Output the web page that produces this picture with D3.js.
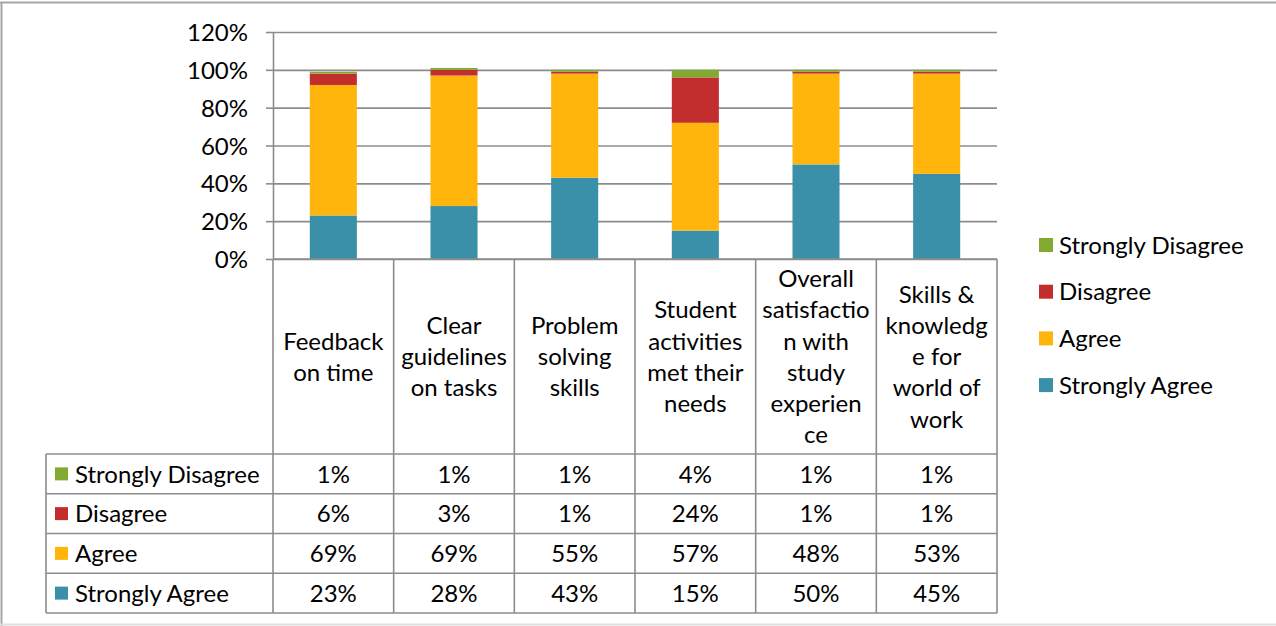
<!DOCTYPE html>
<html>
<head>
<meta charset="utf-8">
<script src="https://cdn.jsdelivr.net/npm/d3@7"></script>
<style>
  html, body { margin: 0; padding: 0; background: #fff; }
  svg { display: block; font-family: Lato, "Open Sans", sans-serif; }
</style>
</head>
<body>
<svg id="chart" width="1276" height="626"></svg>
<script>
// Survey categories, one array of wrapped lines per column
const categories = [
  "Feedback on time",
  "Clear guidelines on tasks",
  "Problem solving skills",
  "Student activities met their needs",
  "Overall satisfaction with study experience",
  "Skills & knowledge for world of work"
];
const categoryLines = [
  ["Feedback", "on time"],
  ["Clear", "guidelines", "on tasks"],
  ["Problem", "solving", "skills"],
  ["Student", "activities", "met their", "needs"],
  ["Overall", "satisfactio", "n with", "study", "experien", "ce"],
  ["Skills &", "knowledg", "e for", "world of", "work"]
];

// Series (stack order bottom to top)
const seriesNames = ["Strongly Agree", "Agree", "Disagree", "Strongly Disagree"];
const stronglyAgree    = [0.23, 0.28, 0.43, 0.15, 0.50, 0.45];
const agree            = [0.69, 0.69, 0.55, 0.57, 0.48, 0.53];
const disagree         = [0.06, 0.03, 0.01, 0.24, 0.01, 0.01];
const stronglyDisagree = [0.01, 0.01, 0.01, 0.04, 0.01, 0.01];
const seriesColors = ["#3a90a8", "#ffb50c", "#c22e2e", "#82aa33"];

const yTicks = [0, 0.2, 0.4, 0.6, 0.8, 1.0, 1.2];

const seriesValues = [stronglyAgree, agree, disagree, stronglyDisagree];
const rows = categories.map((c, i) => {
  const r = { category: c };
  seriesNames.forEach((s, k) => { r[s] = seriesValues[k][i]; });
  return r;
});

const svg = d3.select("#chart");
const gridColor = "#8c8c8c";
const fontSize = 24;

// Outer frame
svg.append("line").attr("x1", 0).attr("x2", 1276).attr("y1", 2.5).attr("y2", 2.5)
  .attr("stroke", "#a6a6a6").attr("stroke-width", 2);
svg.append("line").attr("x1", 1.5).attr("x2", 1.5).attr("y1", 2).attr("y2", 626)
  .attr("stroke", "#a6a6a6").attr("stroke-width", 2);
svg.append("line").attr("x1", 0).attr("x2", 1276).attr("y1", 624.5).attr("y2", 624.5)
  .attr("stroke", "#e0e0e0").attr("stroke-width", 2);

const plotLeft = 273, plotRight = 997, plotTop = 32, plotBottom = 259;

const x = d3.scaleBand().domain(categories).range([plotLeft, plotRight]).paddingInner(0).paddingOuter(0);
const y = d3.scaleLinear().domain([0, 1.2]).range([plotBottom, plotTop]);

// Horizontal gridlines
svg.append("g")
  .attr("transform", `translate(${plotLeft},0)`)
  .call(d3.axisLeft(y).tickValues(yTicks).tickSize(-(plotRight - plotLeft)).tickFormat(""))
  .call(g => g.select(".domain").remove())
  .call(g => g.selectAll("line").attr("stroke", gridColor).attr("stroke-width", 1.6));

// Y axis with percentage labels
svg.append("g")
  .attr("transform", `translate(${plotLeft},0)`)
  .call(d3.axisLeft(y).tickValues(yTicks).tickSize(7).tickSizeOuter(0).tickPadding(18)
    .tickFormat(d3.format(".0%")))
  .call(g => g.select(".domain").attr("stroke", gridColor).attr("stroke-width", 1.6))
  .call(g => g.selectAll(".tick line").attr("stroke", gridColor).attr("stroke-width", 1.6))
  .call(g => g.selectAll(".tick text").attr("fill", "#000").attr("font-size", fontSize)
    .attr("font-family", "Lato, sans-serif").attr("dy", "0.36em"));

// Stacked bars
const stack = d3.stack().keys(seriesNames);
const stacked = stack(rows);
const barW = x.bandwidth() * 0.39;

svg.append("g").selectAll("g")
  .data(stacked)
  .join("g")
  .attr("fill", (d, i) => seriesColors[i])
  .selectAll("rect")
  .data(d => d)
  .join("rect")
  .attr("x", d => x(d.data.category) + (x.bandwidth() - barW) / 2)
  .attr("width", barW)
  .attr("y", d => y(d[1]))
  .attr("height", d => y(d[0]) - y(d[1]));

// Data table
const tableLeft = 46;
const headerTop = plotBottom;
const rowTop = 454;
const rowH = 39.75;
const tableBottom = rowTop + rowH * 4;
const table = svg.append("g");

// horizontal table lines
table.append("line").attr("x1", plotLeft).attr("x2", plotRight)
  .attr("y1", headerTop).attr("y2", headerTop)
  .attr("stroke", gridColor).attr("stroke-width", 1.6);
for (let r = 0; r <= 4; r++) {
  const yy = rowTop + r * rowH;
  table.append("line").attr("x1", tableLeft).attr("x2", plotRight)
    .attr("y1", yy).attr("y2", yy).attr("stroke", gridColor).attr("stroke-width", 1.6);
}
// vertical table lines
table.append("line").attr("x1", tableLeft).attr("x2", tableLeft)
  .attr("y1", rowTop).attr("y2", tableBottom).attr("stroke", gridColor).attr("stroke-width", 1.6);
table.append("line").attr("x1", plotLeft).attr("x2", plotLeft)
  .attr("y1", headerTop).attr("y2", tableBottom).attr("stroke", gridColor).attr("stroke-width", 1.6);
categories.forEach(c => {
  const xx = x(c) + x.bandwidth();
  table.append("line").attr("x1", xx).attr("x2", xx)
    .attr("y1", headerTop).attr("y2", tableBottom).attr("stroke", gridColor).attr("stroke-width", 1.6);
});

// category header text
const lineH = 31.2;
const headerMid = (headerTop + rowTop) / 2;
categories.forEach((c, i) => {
  const lines = categoryLines[i];
  const t = table.append("text")
    .attr("text-anchor", "middle")
    .attr("font-size", fontSize)
    .attr("fill", "#000");
  lines.forEach((ln, j) => {
    t.append("tspan")
      .attr("x", x(c) + x.bandwidth() / 2)
      .attr("y", headerMid + (j - (lines.length - 1) / 2) * lineH)
      .attr("dy", "0.36em")
      .text(ln);
  });
});

// table rows (top row = last series)
const tableOrder = [3, 2, 1, 0];
const pct = d3.format(".0%");
tableOrder.forEach((k, r) => {
  const cy = rowTop + r * rowH + rowH / 2;
  table.append("rect").attr("x", 55).attr("y", cy - 6.5).attr("width", 13).attr("height", 13)
    .attr("fill", seriesColors[k]);
  table.append("text").attr("x", 75).attr("y", cy).attr("dy", "0.36em")
    .attr("font-size", fontSize).attr("fill", "#000").text(seriesNames[k]);
  categories.forEach((c, i) => {
    table.append("text")
      .attr("x", x(c) + x.bandwidth() / 2).attr("y", cy).attr("dy", "0.36em")
      .attr("text-anchor", "middle").attr("font-size", fontSize).attr("fill", "#000")
      .text(pct(seriesValues[k][i]));
  });
});

// Legend on the right
const legend = svg.append("g");
const legendTop = 245, legendStep = 46.7;
[3, 2, 1, 0].forEach((k, r) => {
  const cy = legendTop + r * legendStep;
  legend.append("rect").attr("x", 1039).attr("y", cy - 7).attr("width", 14).attr("height", 14)
    .attr("fill", seriesColors[k]);
  legend.append("text").attr("x", 1059).attr("y", cy).attr("dy", "0.36em")
    .attr("font-size", fontSize).attr("fill", "#000").text(seriesNames[k]);
});
</script>
</body>
</html>
